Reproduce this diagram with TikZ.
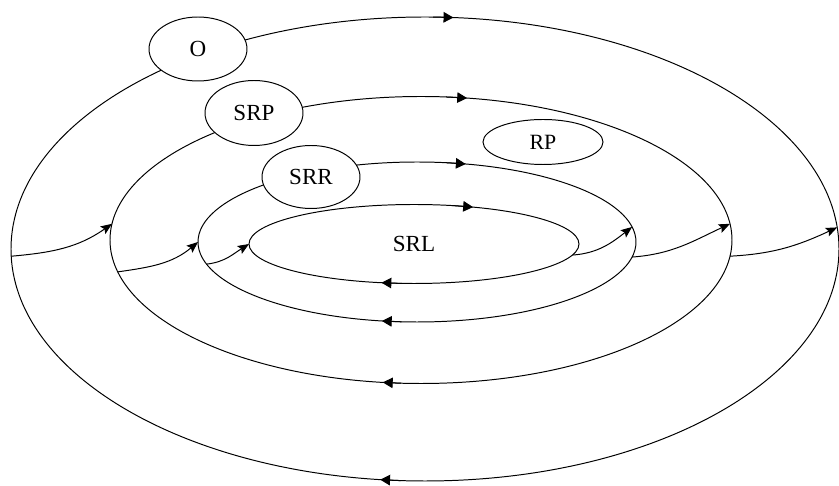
\documentclass[tikz,border=0pt]{standalone}
\usepackage{fontspec}
\setmainfont{Liberation Serif}
\usetikzlibrary{shapes.geometric,arrows.meta}

\begin{document}
\begin{tikzpicture}[
  line width=0.7pt,
  orbit/.style={ellipse, draw, inner sep=0pt, outer sep=0pt},
  tag/.style={ellipse, draw, fill=white, inner sep=0pt, outer sep=0pt},
  spin/.style={-{Triangle[length=7pt,width=7.5pt]}},
  hop/.style={-{Stealth[length=8pt,width=6.5pt,inset=1.5pt]}}
]
\useasboundingbox (0.0,0.0) rectangle (20.975,12.15);
\fill[white] (0.0,0.0) rectangle (20.975,12.15);

\node[orbit, minimum width=20.7cm, minimum height=11.6cm] (orbitO) at (10.625,5.925) {};
\node[orbit, minimum width=15.55cm, minimum height=7.175cm] (orbitSRP) at (10.525,6.15) {};
\node[orbit, minimum width=10.95cm, minimum height=4.0cm] (orbitSRR) at (10.425,6.1) {};
\node[orbit, minimum width=8.25cm, minimum height=1.975cm, font=\fontsize{16.4}{19}\selectfont] (srl) at (10.35,6.05) { SRL };

\draw[spin] (orbitO.88) -- (orbitO.83);
\draw[spin] (orbitO.264) -- (orbitO.259);
\draw[spin] (orbitSRP.80) -- (orbitSRP.72);
\draw[spin] (orbitSRP.262) -- (orbitSRP.255);
\draw[spin] (orbitSRR.70) -- (orbitSRR.58);
\draw[spin] (orbitSRR.259) -- (orbitSRR.246);
\draw[spin] (srl.45) -- (srl.32);
\draw[spin] (srl.253) -- (srl.230);

\draw[hop] (orbitO.181) to[out=5, in=215] (orbitSRP.177);
\draw[hop] (orbitSRP.186) to[out=8, in=220] (orbitSRR.180);
\draw[hop] (orbitSRR.186) to[out=6, in=212] (srl.180);
\draw[hop] (srl.-4) to[out=4, in=218] (orbitSRR.4);
\draw[hop] (orbitSRR.-4) to[out=4, in=205] (orbitSRP.3);
\draw[hop] (orbitSRP.-3) to[out=3, in=205] (orbitO.3);

\node[tag, minimum width=2.45cm, minimum height=1.6cm, font=\fontsize{16.4}{19}\selectfont] (o) at (4.95,10.925) { O };
\node[tag, minimum width=2.45cm, minimum height=1.625cm, font=\fontsize{16.4}{19}\selectfont] (srp) at (6.35,9.325) { SRP };
\node[tag, minimum width=2.45cm, minimum height=1.575cm, font=\fontsize{16.4}{19}\selectfont] (srr) at (7.775,7.725) { SRR };
\node[tag, minimum width=3.0cm, minimum height=1.125cm, font=\fontsize{15.5}{18}\selectfont] (rp) at (13.575,8.6) { RP };
\end{tikzpicture}
\end{document}
